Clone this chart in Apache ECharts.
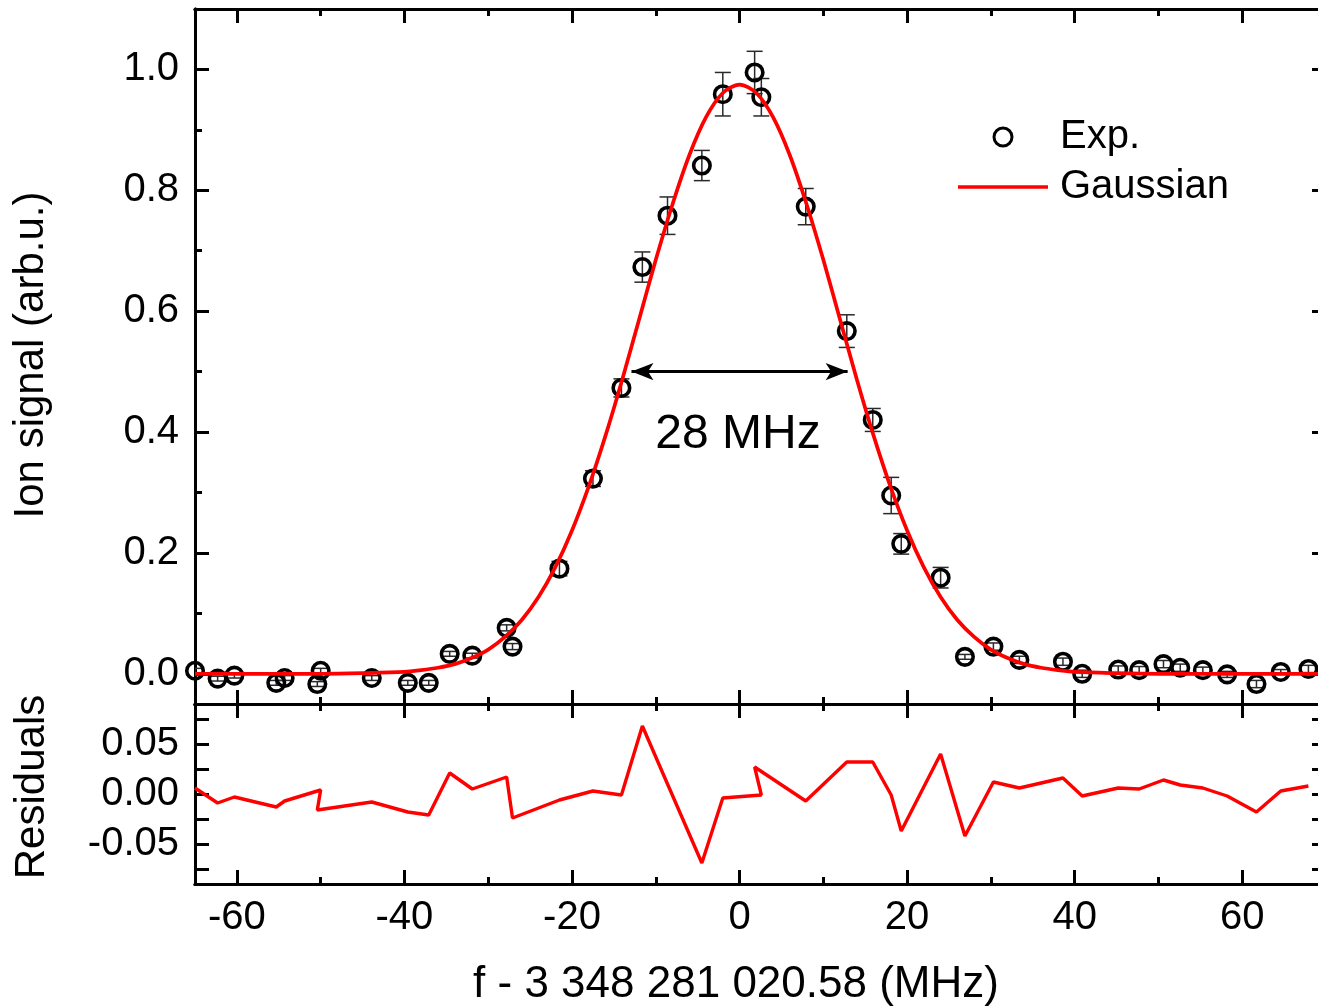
<!DOCTYPE html>
<html>
<head>
<meta charset="utf-8">
<script src="https://cdn.jsdelivr.net/npm/echarts@6/dist/echarts.min.js"></script>
<style>
html,body{margin:0;padding:0;background:#fff;}
#chart{width:1318px;height:1008px;}
</style>
</head>
<body>
<div id="chart"></div>
<script>
// ---------- data ----------
// experimental points (order as connected in the residual plot)
const expX = [-65.0,-62.3,-60.3,-55.3,-54.3,-50.0,-50.4,-43.9,-39.6,-37.1,-34.6,-31.9,-27.8,-27.1,-21.5,-17.5,-14.1,-11.6,-8.6,-4.5,-2.0,2.6,1.8,7.9,12.8,15.9,18.1,19.3,24.0,26.9,30.3,33.4,38.6,40.9,45.2,47.7,50.6,52.6,55.3,58.2,61.7,64.6,67.9];
const expY = [0.005,-0.008,-0.003,-0.015,-0.007,0.005,-0.017,-0.007,-0.015,-0.015,0.033,0.030,0.076,0.045,0.174,0.323,0.473,0.673,0.758,0.841,0.959,0.954,0.995,0.773,0.567,0.420,0.295,0.215,0.159,0.028,0.045,0.023,0.020,0.000,0.007,0.006,0.016,0.010,0.006,-0.001,-0.017,0.003,0.008];
const expErr = [0.004,0.004,0.004,0.004,0.004,0.004,0.004,0.004,0.004,0.004,0.004,0.004,0.005,0.005,0.012,0.013,0.015,0.025,0.031,0.025,0.036,0.031,0.035,0.030,0.027,0.019,0.030,0.017,0.017,0.004,0.006,0.006,0.006,0.006,0.006,0.006,0.006,0.006,0.005,0.005,0.006,0.004,0.006];
const residuals = [0.006,-0.009,-0.003,-0.013,-0.007,0.004,-0.016,-0.008,-0.018,-0.021,0.021,0.005,0.017,-0.024,-0.006,0.003,-0.001,0.068,0.010,-0.069,-0.004,-0.001,0.027,-0.007,0.032,0.032,-0.001,-0.037,0.040,-0.042,0.012,0.006,0.016,-0.002,0.006,0.005,0.014,0.009,0.006,-0.002,-0.018,0.003,0.008];
// Gaussian fit curve
const fitX = [-65,-50,-45,-40,-38,-36,-34,-32,-30,-28,-26,-24,-22,-20,-18,-16,-14,-12,-10,-8,-6,-4,-2,0,2,4,6,8,10,12,14,16,18,20,22,24,26,28,30,32,34,36,38,40,45,50,70];
const fitY = [0,0,0.001,0.003,0.006,0.010,0.016,0.026,0.040,0.061,0.089,0.127,0.176,0.237,0.310,0.394,0.487,0.586,0.685,0.777,0.858,0.921,0.961,0.975,0.961,0.921,0.858,0.777,0.685,0.586,0.487,0.394,0.310,0.237,0.176,0.127,0.089,0.061,0.040,0.026,0.016,0.010,0.006,0.003,0.001,0,0];
// FWHM arrow ends
const fwhmX = [-12.9, 12.9];
const fwhmY = 0.5;
// ticks
const xMajor = [-60,-40,-20,0,20,40,60];
const xMinor = [-50,-30,-10,10,30,50];
const yMajor = [0,0.2,0.4,0.6,0.8,1.0];
const yMinor = [0.1,0.3,0.5,0.7,0.9];
const rTicks = [-0.075,-0.05,-0.025,0,0.025,0.05,0.075];
const rLabels = [-0.05,0,0.05];

// ---------- chart ----------
const FONT = "'Liberation Sans', Arial, Helvetica, sans-serif";
const X_MIN = -65, X_MAX = 70;
const chart = echarts.init(document.getElementById('chart'), null, {renderer:'canvas'});

function xAx(grid, pos, ticks, len, labels){
  return {
    type:'value', gridIndex:grid, position:pos, min:X_MIN, max:X_MAX,
    axisLine:{show:true, onZero:false, lineStyle:{color:'#000', width:3}},
    axisTick:{show:true, inside:true, length:len, customValues:ticks, lineStyle:{color:'#000', width:3}},
    axisLabel: labels ? {show:true, customValues:labels, fontSize:40, color:'#000', fontFamily:FONT, margin:14,
                         formatter:v=>String(Math.round(v))} : {show:false},
    splitLine:{show:false}
  };
}
function yAx(grid, pos, min, max, ticks, len, labels, dec){
  return {
    type:'value', gridIndex:grid, position:pos, min:min, max:max,
    axisLine:{show:true, onZero:false, lineStyle:{color:'#000', width:3}},
    axisTick:{show:true, inside:true, length:len, customValues:ticks, lineStyle:{color:'#000', width:3}},
    axisLabel: labels ? {show:true, customValues:labels, fontSize:40, color:'#000', fontFamily:FONT, margin:16,
                         formatter:v=>(Math.abs(v)<1e-9?0:v).toFixed(dec)} : {show:false},
    splitLine:{show:false}
  };
}

const option = {
  animation:false,
  backgroundColor:'#fff',
  grid:[
    {left:195, top:9, width:1131, height:695, outerBoundsMode:'none', containLabel:false},
    {left:195, top:704, width:1131, height:180, outerBoundsMode:'none', containLabel:false}
  ],
  xAxis:[
    xAx(0,'bottom',xMajor,14,null),
    xAx(0,'bottom',xMinor,7,null),
    xAx(0,'top',xMajor,14,null),
    xAx(0,'top',xMinor,7,null),
    xAx(1,'bottom',xMajor,14,xMajor),
    xAx(1,'bottom',xMinor,7,null),
    xAx(1,'top',xMajor,14,null),
    xAx(1,'top',xMinor,7,null)
  ],
  yAxis:[
    yAx(0,'left',-0.05,1.1,yMajor,14,yMajor,1),
    yAx(0,'left',-0.05,1.1,yMinor,7,null,1),
    yAx(0,'right',-0.05,1.1,yMajor,14,null,1),
    yAx(0,'right',-0.05,1.1,yMinor,7,null,1),
    yAx(1,'left',-0.09,0.09,rTicks,14,rLabels,2),
    yAx(1,'right',-0.09,0.09,rTicks,14,null,2)
  ],
  legend:{
    orient:'vertical', left:953, top:110, padding:5,
    itemWidth:90, itemHeight:18, itemGap:6,
    textStyle:{fontSize:40, fontFamily:FONT, color:'#000', lineHeight:44, padding:[0,0,0,7]},
    data:[
      {name:'Exp.', icon:'circle', itemStyle:{color:'rgba(0,0,0,0)', borderColor:'#000', borderWidth:3, opacity:1}},
      {name:'Gaussian', icon:'path://M0,0L90,0L90,3.5L0,3.5Z', itemStyle:{color:'#ff0000', borderWidth:0, opacity:1}}
    ]
  },
  series:[
    {
      name:'errors', type:'custom', xAxisIndex:0, yAxisIndex:0, z:1, clip:true,
      data: expX.map((x,i)=>[x, expY[i]-expErr[i], expY[i]+expErr[i]]),
      encode:{x:0, y:[1,2]},
      renderItem:function(params, api){
        const x = api.value(0);
        const pLo = api.coord([x, api.value(1)]);
        const pHi = api.coord([x, api.value(2)]);
        const hw = 8;
        const st = {stroke:'#2a2a2a', lineWidth:1.5};
        return {type:'group', children:[
          {type:'line', shape:{x1:pLo[0], y1:pLo[1], x2:pHi[0], y2:pHi[1]}, style:st},
          {type:'line', shape:{x1:pLo[0]-hw, y1:pLo[1], x2:pLo[0]+hw, y2:pLo[1]}, style:st},
          {type:'line', shape:{x1:pHi[0]-hw, y1:pHi[1], x2:pHi[0]+hw, y2:pHi[1]}, style:st}
        ]};
      }
    },
    {
      name:'Exp.', type:'scatter', xAxisIndex:0, yAxisIndex:0, z:2,
      symbol:'circle', symbolSize:16.5,
      itemStyle:{color:'rgba(0,0,0,0)', borderColor:'#000', borderWidth:3.6, opacity:1},
      data: expX.map((x,i)=>[x, expY[i]])
    },
    {
      name:'Gaussian', type:'line', xAxisIndex:0, yAxisIndex:0, z:4,
      symbol:'none', smooth:0.3,
      lineStyle:{color:'#ff0000', width:3.7},
      itemStyle:{color:'#ff0000'},
      data: fitX.map((x,i)=>[x, fitY[i]]),
      markLine:{
        silent:true, animation:false,
        symbol:['arrow','arrow'], symbolSize:[13,22],
        lineStyle:{color:'#000', width:3, type:'solid'},
        itemStyle:{color:'#000'},
        label:{show:false},
        data:[[{coord:[fwhmX[0], fwhmY]},{coord:[fwhmX[1], fwhmY]}]]
      }
    },
    {
      name:'Residuals', type:'line', xAxisIndex:4, yAxisIndex:4, z:4,
      symbol:'none',
      lineStyle:{color:'#ff0000', width:3.4},
      data: expX.map((x,i)=>[x, residuals[i]])
    }
  ],
  graphic:[
    {type:'text', x:31, y:355, rotation:Math.PI/2,
     style:{text:'Ion signal (arb.u.)', fontSize:42, fontFamily:FONT, fill:'#000', align:'center', verticalAlign:'middle'}},
    {type:'text', x:32, y:787, rotation:Math.PI/2,
     style:{text:'Residuals', fontSize:42, fontFamily:FONT, fill:'#000', align:'center', verticalAlign:'middle'}},
    {type:'text', x:736, y:985,
     style:{text:'f - 3 348 281 020.58 (MHz)', fontSize:44, fontFamily:FONT, fill:'#000', align:'center', verticalAlign:'middle'}},
    {type:'text', x:738, y:435,
     style:{text:'28 MHz', fontSize:48, fontFamily:FONT, fill:'#000', align:'center', verticalAlign:'middle'}}
  ]
};
chart.setOption(option);
</script>
</body>
</html>
